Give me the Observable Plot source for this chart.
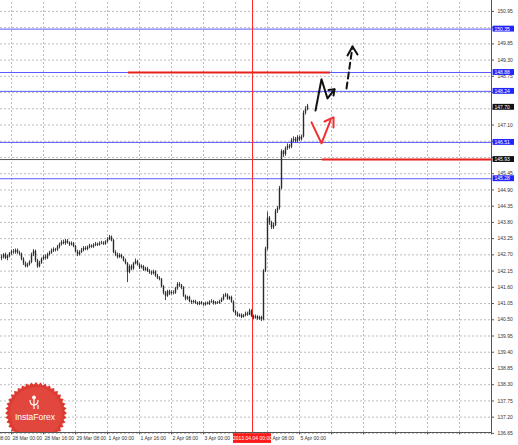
<!DOCTYPE html>
<html><head><meta charset="utf-8">
<script src="https://cdn.jsdelivr.net/npm/d3@7"></script>
<script src="https://cdn.jsdelivr.net/npm/@observablehq/plot@0.6"></script>
<style>
html,body{margin:0;padding:0;background:#fff;}
#chart{position:relative;width:518px;height:445px;overflow:hidden;}
</style></head><body><div id="chart"></div>
<script>
// Hourly GBP/JPY bars, index 0..153
const opens=[142.58,142.62,142.70,142.58,142.66,142.74,142.80,142.78,142.85,142.76,
142.72,142.55,142.40,142.30,142.36,142.45,142.70,142.82,142.50,142.30,
142.42,142.55,142.62,142.58,142.70,142.76,142.82,142.88,142.86,142.96,
143.05,143.12,143.08,143.16,143.10,143.04,143.08,142.98,142.80,142.70,
142.78,142.85,142.92,142.88,142.95,143.00,142.96,143.02,143.06,143.02,
143.08,143.10,143.06,143.14,143.22,143.30,143.18,142.78,142.70,142.62,
142.68,142.60,142.50,142.40,142.10,142.30,142.22,142.40,142.48,142.36,
142.26,142.30,142.18,142.22,142.14,142.10,142.06,142.12,141.98,141.90,
141.86,141.62,141.40,141.30,141.45,141.38,141.42,141.40,141.55,141.70,
141.66,141.58,141.30,141.20,141.26,141.12,141.08,141.12,141.06,141.02,
141.08,141.04,141.00,141.06,141.02,141.10,141.12,141.04,141.08,141.05,
141.10,141.18,141.30,141.34,141.20,141.26,141.10,140.78,140.70,140.62,
140.66,140.58,140.64,140.70,140.66,140.80,140.62,140.55,140.60,140.52,
140.58,140.50,142.15,142.90,143.95,143.78,143.62,143.70,144.18,144.28,
144.95,146.20,146.10,146.30,146.38,146.35,146.58,146.62,146.55,146.68,
146.60,146.70,147.50,147.62];
const highs=[142.70,142.74,142.76,142.70,142.78,142.86,142.88,142.90,142.90,142.82,
142.76,142.60,142.46,142.42,142.50,142.76,142.88,142.86,142.55,142.48,
142.60,142.68,142.70,142.76,142.82,142.90,142.94,142.92,143.02,143.10,
143.18,143.20,143.22,143.22,143.14,143.14,143.12,143.02,142.86,142.84,
142.92,142.98,142.98,143.00,143.06,143.04,143.08,143.12,143.10,143.14,
143.16,143.14,143.18,143.28,143.36,143.34,143.22,142.84,142.76,142.74,
142.72,142.64,142.56,142.44,142.36,142.36,142.44,142.56,142.52,142.40,
142.36,142.34,142.28,142.28,142.20,142.16,142.18,142.16,142.04,141.96,
141.90,141.66,141.46,141.50,141.50,141.48,141.48,141.60,141.76,141.76,
141.70,141.62,141.34,141.30,141.30,141.16,141.16,141.16,141.10,141.12,
141.12,141.08,141.10,141.10,141.14,141.18,141.16,141.12,141.12,141.16,
141.24,141.36,141.40,141.38,141.30,141.30,141.14,140.82,140.76,140.70,
140.70,140.68,140.76,140.76,140.86,140.84,140.66,140.66,140.64,140.62,
140.62,142.20,142.96,144.14,144.00,143.84,143.78,144.24,144.34,145.02,
146.26,146.24,146.36,146.46,146.44,146.64,146.70,146.68,146.74,146.72,
146.76,147.58,147.72,147.80];
const lows=[142.50,142.56,142.54,142.50,142.60,142.68,142.72,142.72,142.72,142.66,
142.50,142.34,142.26,142.26,142.32,142.40,142.64,142.44,142.24,142.26,
142.38,142.50,142.52,142.54,142.66,142.72,142.78,142.80,142.82,142.90,
143.00,143.04,143.02,143.06,142.98,143.00,142.94,142.76,142.64,142.66,
142.74,142.80,142.84,142.84,142.90,142.92,142.92,142.98,142.98,143.00,
143.04,143.02,143.02,143.10,143.18,143.14,142.74,142.64,142.56,142.58,
142.56,142.46,142.36,141.76,142.06,142.16,142.18,142.36,142.32,142.20,
142.22,142.14,142.14,142.10,142.04,142.00,142.02,141.94,141.86,141.82,
141.58,141.34,141.15,141.26,141.32,141.34,141.34,141.36,141.50,141.60,
141.52,141.26,141.14,141.16,141.08,141.02,141.04,141.02,140.98,140.98,
141.00,140.96,140.96,141.00,140.98,141.06,141.00,141.00,141.02,141.02,
141.08,141.14,141.26,141.16,141.16,141.06,140.74,140.64,140.58,140.58,
140.54,140.56,140.60,140.62,140.64,140.58,140.50,140.52,140.48,140.48,
140.44,140.46,142.10,142.84,143.70,143.56,143.56,143.66,144.10,144.22,
144.90,146.00,146.04,146.24,146.28,146.30,146.50,146.48,146.50,146.54,
146.56,146.66,147.44,147.58];
const closes=[142.62,142.70,142.58,142.66,142.74,142.80,142.78,142.85,142.76,142.72,
142.55,142.40,142.30,142.36,142.45,142.70,142.82,142.50,142.30,142.42,
142.55,142.62,142.58,142.70,142.76,142.82,142.88,142.86,142.96,143.05,
143.12,143.08,143.16,143.10,143.04,143.08,142.98,142.80,142.70,142.78,
142.85,142.92,142.88,142.95,143.00,142.96,143.02,143.06,143.02,143.08,
143.10,143.06,143.14,143.22,143.30,143.18,142.78,142.70,142.62,142.68,
142.60,142.50,142.40,142.10,142.30,142.22,142.40,142.48,142.36,142.26,
142.30,142.18,142.22,142.14,142.10,142.06,142.12,141.98,141.90,141.86,
141.62,141.40,141.30,141.45,141.38,141.42,141.40,141.55,141.70,141.66,
141.58,141.30,141.20,141.26,141.12,141.08,141.12,141.06,141.02,141.08,
141.04,141.00,141.06,141.02,141.10,141.12,141.04,141.08,141.05,141.10,
141.18,141.30,141.34,141.20,141.26,141.10,140.78,140.70,140.62,140.66,
140.58,140.64,140.70,140.66,140.80,140.62,140.55,140.60,140.52,140.58,
140.50,142.15,142.90,143.95,143.78,143.62,143.70,144.18,144.28,144.95,
146.20,146.10,146.30,146.38,146.35,146.58,146.62,146.55,146.68,146.60,
146.70,147.50,147.62,147.74];

const yTicks=[136.65,137.20,137.75,138.30,138.85,139.40,139.95,140.50,141.05,141.60,142.15,142.70,
143.25,143.80,144.35,144.90,145.45,146.00,146.55,147.10,147.65,148.20,148.75,149.30,149.85,150.40,150.95];
// tick labels hidden under the level tags in the reference
const yHidden=[150.40,148.20,147.65,146.55,146.00];
const xGridBars=[5,21,37,53,69,85,101,117,133,149,165,181,197,213,229,245];
const xTickBars=[-11,5,21,37,53,69,85,101,133,149];
const xTickLabels=["27 Mar 08:00","28 Mar 00:00","28 Mar 16:00","29 Mar 08:00","1 Apr 00:00","1 Apr 16:00",
"2 Apr 08:00","3 Apr 00:00","4 Apr 08:00","5 Apr 00:00"];

const blueLevels=[150.35,148.88,148.24,146.51,145.28];
const grayLevels=[145.93];
const priceNow=147.70;
const markerBar=125.5;
const markerLabel="2013.04.04 00:00";
const redSegStart=[63.5,160.5];
const redSegEnd=[164.5,245];
const redSegPrice=[148.88,145.93];

const blackSolidBar=[157,160,163,166.5];
const blackSolidPrice=[147.59,148.65,148.00,148.31];
const blackHeadBar=[163.5,166.5,166];
const blackHeadPrice=[148.29,148.31,148.10];
const dashedBar=[172.5,175.5];
const dashedPrice=[148.34,149.76];
const dashedHeadBar=[173,175.5,178];
const dashedHeadPrice=[149.46,149.76,149.49];
const redVBar=[155,160,164.5];
const redVPrice=[147.19,146.48,147.26];
const redHeadBar=[161.5,166,166];
const redHeadPrice=[147.22,147.36,147.02];

const bars=closes.map((c,i)=>({i,o:opens[i],h:highs[i],l:lows[i],c}));
const pts=(b,p)=>b.map((x,k)=>({x,y:p[k]}));
const yMin=136.68, yMax=151.32, xMin=-0.5, xMax=245;
const labFont="Liberation Sans, Arial, sans-serif";
const tagLevels=grayLevels.concat([priceNow]);
const yShown=yTicks.filter(v=>!yHidden.includes(v));

const chart=Plot.plot({
  width:518,height:445,marginLeft:0,marginRight:27,marginTop:0,marginBottom:13,
  style:{fontFamily:labFont,background:"#fff",overflow:"visible"},
  x:{type:"linear",domain:[xMin,xMax],axis:null},
  y:{type:"linear",domain:[yMin,yMax],axis:null},
  marks:[
    Plot.ruleY(yTicks,{y:d=>d,x1:()=>xMin,x2:()=>xMax,stroke:"#bdbdbd",strokeDasharray:"2,2",strokeWidth:1}),
    Plot.ruleX(xGridBars,{x:d=>d,y1:()=>yMin,y2:()=>yMax,stroke:"#bdbdbd",strokeDasharray:"2,2",strokeWidth:1}),
    Plot.ruleY(blueLevels,{y:d=>d,x1:()=>xMin,x2:()=>xMax,stroke:"#5a5aff",strokeWidth:1}),
    Plot.ruleY(grayLevels,{y:d=>d,x1:()=>xMin,x2:()=>xMax,stroke:"#555",strokeWidth:1}),
    Plot.ruleX([markerBar],{x:d=>d,y1:()=>yMin,y2:()=>yMax,stroke:"#ff2a2a",strokeWidth:1}),
    Plot.ruleY(redSegPrice,{y:d=>d,x1:(d,k)=>redSegStart[k],x2:(d,k)=>redSegEnd[k],stroke:"#e8201c",strokeWidth:2}),
    Plot.ruleX(bars,{x:"i",y1:"l",y2:"h",stroke:"#4a4a4a",strokeWidth:1}),
    Plot.ruleX(bars,{x:"i",y1:"o",y2:"c",stroke:"#2a2a2a",strokeWidth:1.4}),
    Plot.line(pts(blackSolidBar,blackSolidPrice),{x:"x",y:"y",stroke:"#111",strokeWidth:2}),
    Plot.line(pts(blackHeadBar,blackHeadPrice),{x:"x",y:"y",stroke:"#111",strokeWidth:2}),
    Plot.line(pts(dashedBar,dashedPrice),{x:"x",y:"y",stroke:"#111",strokeWidth:2,strokeDasharray:"6,4"}),
    Plot.line(pts(dashedHeadBar,dashedHeadPrice),{x:"x",y:"y",stroke:"#111",strokeWidth:2}),
    Plot.line(pts(redVBar,redVPrice),{x:"x",y:"y",stroke:"#f03030",strokeWidth:2}),
    Plot.line(pts(redHeadBar,redHeadPrice),{x:"x",y:"y",stroke:"#f03030",strokeWidth:2}),
    // axes
    Plot.ruleX([xMax],{x:d=>d,y1:()=>yMin,y2:()=>yMax,stroke:"#555",strokeWidth:1}),
    Plot.ruleY([yMin],{y:d=>d,x1:()=>xMin,x2:()=>xMax,stroke:"#555",strokeWidth:1}),
    Plot.ruleY(yTicks,{y:d=>d,x1:()=>xMax,x2:()=>xMax+1.5,stroke:"#555",strokeWidth:1}),
    Plot.text(yShown,{y:d=>d,x:()=>xMax,text:d=>d.toFixed(2),textAnchor:"start",dx:6,fontSize:5,fill:"#333"}),
    Plot.ruleX(xGridBars,{x:d=>d,y1:()=>yMin,y2:()=>yMin-0.08,stroke:"#555",strokeWidth:1}),
    Plot.text(xTickBars,{x:d=>d,y:()=>yMin,text:(d,k)=>xTickLabels[k],textAnchor:"start",dx:1,dy:6,fontSize:5,fill:"#333"}),
    // level tags
    Plot.rect(blueLevels,{x1:()=>xMax+0.8,x2:()=>xMax+11.5,y1:d=>d-0.1,y2:d=>d+0.1,fill:"#2424ff"}),
    Plot.text(blueLevels,{y:d=>d,x:()=>xMax,text:d=>d.toFixed(2),textAnchor:"start",dx:3,fontSize:5,fill:"#fff"}),
    Plot.rect(tagLevels,{x1:()=>xMax+0.8,x2:()=>xMax+11.5,y1:d=>d-0.1,y2:d=>d+0.1,fill:"#111"}),
    Plot.text(tagLevels,{y:d=>d,x:()=>xMax,text:d=>d.toFixed(2),textAnchor:"start",dx:3,fontSize:5,fill:"#fff"}),
    Plot.rect([markerBar],{x1:d=>d-9.5,x2:d=>d+9.5,y1:()=>yMin-0.04,y2:()=>yMin-0.37,fill:"#ff1a1a"}),
    Plot.text([markerBar],{x:d=>d,y:()=>yMin,text:()=>markerLabel,dy:6,fontSize:5,fill:"#fff"})
  ]
});
document.getElementById("chart").appendChild(chart);

// InstaForex watermark logo
const svg=d3.select(chart);
const cx=36,cy=413,ro=31,ri=28.3,n=40;
const poly=d3.range(n*2).map(k=>{const a=k*Math.PI/n;const r=k%2?ri:ro;return [cx+r*Math.sin(a),cy-r*Math.cos(a)];});
svg.append("clipPath").attr("id","logoclip").append("rect").attr("x",0).attr("y",0).attr("width",491).attr("height",432);
const g=svg.append("g").attr("clip-path","url(#logoclip)");
g.append("polygon").attr("points",poly.map(p=>p.join(",")).join(" ")).attr("fill","#dd3b31");
g.append("circle").attr("cx",cx).attr("cy",cy).attr("r",26).attr("fill","#e2473d");
const ic=g.append("g").attr("stroke","#fff").attr("fill","none").attr("stroke-width",1.2);
ic.append("path").attr("d",`M${cx-2},${cy-4} L${cx-2},${cy-14} M${cx-6},${cy-13} Q${cx-6},${cy-8} ${cx-2},${cy-8} Q${cx+2},${cy-8} ${cx+2},${cy-13} M${cx+2},${cy-4} L${cx+2},${cy-8}`);
ic.append("circle").attr("cx",cx-2).attr("cy",cy-15.5).attr("r",1.3).attr("fill","#fff");
g.append("text").attr("x",cx-1).attr("y",cy+7).attr("text-anchor","middle").attr("font-family","Liberation Sans, Arial, sans-serif")
 .attr("font-size",8.5).attr("fill","#fff").text("InstaForex");
</script>
</body></html>
